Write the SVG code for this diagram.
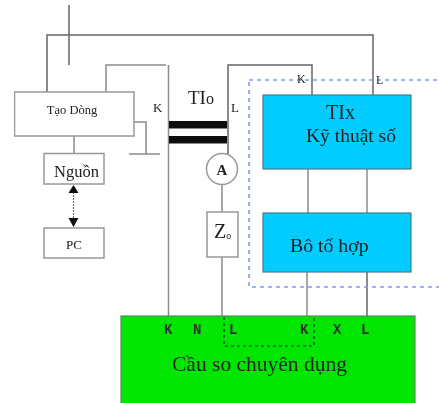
<svg xmlns="http://www.w3.org/2000/svg" width="439" height="403" viewBox="0 0 439 403">
<defs><filter id="soft" x="0" y="0" width="100%" height="100%"><feGaussianBlur stdDeviation="0.45"/></filter></defs>
<style>
.w{fill:none;stroke:#8c8c8c;stroke-width:1.5}
.d{stroke:#666}
.b{fill:#fff;stroke:#999;stroke-width:1.5}
.c{fill:#00ccff;stroke:#4d7a88;stroke-width:1.2}
text{font-family:"Liberation Serif",serif;fill:#222}
.m{font-family:"Liberation Mono",monospace;font-size:14px;font-weight:bold;fill:#333}
</style>
<rect width="439" height="403" fill="#fff"/>
<g filter="url(#soft)">
<g id="connectors">
<path class="w d" d="M69 5V65M47 92V35H373V95"/>
<path class="w" d="M106 92V65H166M168.500 65V316"/>
<path class="w" d="M131 122H146V154M129 154H160"/>
<path class="w" d="M74 136V153"/>
<path class="w d" d="M228 154V65H312V95"/>
<path class="w" d="M222 185V212M222 257V316"/>
<path class="w" d="M308 169V213M367 169V213M307 272V316"/>
<path class="w d" d="M367 272V316"/>
<path d="M73.500 192V220" fill="none" stroke="#777" stroke-width="1.2" stroke-dasharray="2 1"/>
<path d="M73.500 185l-5 8h10zM73.500 227l-5-9h10z" fill="#111"/>
</g>
<g id="dashed-frame"><rect x="249" y="80" width="200" height="207" fill="none" stroke="#7f9cf5" stroke-width="1.6" stroke-dasharray="4 4"/></g>
<g id="tao-dong"><rect class="b" x="14.500" y="92" width="119.500" height="44"/><text x="72" y="114" text-anchor="middle" font-size="12.500">Tạo Dòng</text></g>
<g id="nguon"><rect class="b" x="44" y="153.500" width="60" height="30.500"/><text x="76.500" y="177" text-anchor="middle" font-size="16.500">Nguồn</text></g>
<g id="pc"><rect class="b" x="44" y="228" width="60" height="30"/><text x="74" y="249" text-anchor="middle" font-size="13">PC</text></g>
<g id="tio">
<rect x="169" y="121" width="58" height="7.500" fill="#111"/><rect x="169" y="136" width="58" height="7.500" fill="#111"/>
<text x="188" y="104" font-size="19">TI<tspan font-size="16">o</tspan></text>
<text x="153" y="112" font-size="13">K</text><text x="231" y="112" font-size="13" fill="#555">L</text>
</g>
<g id="ampe"><circle cx="222" cy="169" r="15.500" class="b"/><text x="222" y="175" text-anchor="middle" font-size="15" font-weight="bold">A</text></g>
<g id="zo"><rect class="b" x="207" y="212" width="31" height="45"/><text x="214" y="238" font-size="20" font-family="Liberation Sans">Z<tspan font-size="10" dy="1">o</tspan></text></g>
<g id="tix"><rect class="c" x="263" y="95" width="148" height="74"/><text x="326" y="119" font-size="20">TIx</text><text x="306" y="142" font-size="19.500">Kỹ thuật số</text><text x="297" y="83" font-size="12">K</text><text x="376" y="84" font-size="12" fill="#555">L</text></g>
<g id="bo-to-hop"><rect class="c" x="263" y="213" width="148" height="59"/><text x="290" y="252" font-size="19.800">Bô tổ hợp</text></g>
<g id="cau-so"><rect x="121" y="316" width="294" height="88" fill="#00e600" stroke="#5a8a5a" stroke-width="1.2"/>
<path d="M224 317V346H314V317" fill="none" stroke="#222" stroke-width="1.200" stroke-dasharray="3 3"/>
<text class="m" x="164" y="334">K</text><text class="m" x="193" y="334">N</text><text class="m" x="229" y="334">L</text><text class="m" x="300" y="334">K</text><text class="m" x="333" y="334">X</text><text class="m" x="361" y="334">L</text>
<text x="172" y="371" font-size="21.500">Cầu so chuyên dụng</text></g>
</g>
</svg>
